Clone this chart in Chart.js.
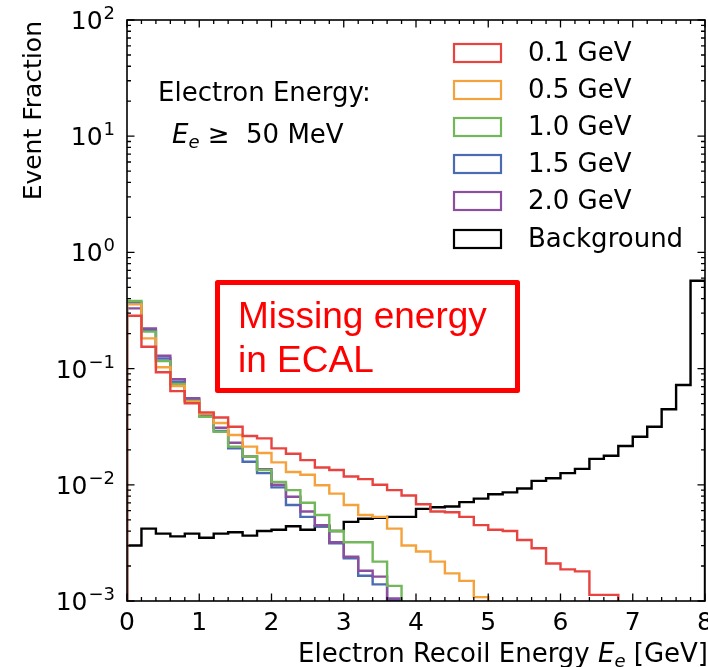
<!DOCTYPE html>
<html>
<head>
<meta charset="utf-8">
<script src="https://cdn.jsdelivr.net/npm/chart.js@4.4.0/dist/chart.umd.min.js"></script>
<style>
  html, body { margin: 0; padding: 0; background: #fff; }
  #wrap { width: 708px; height: 667px; }
</style>
</head>
<body>
<div id="wrap"><canvas id="chart" width="708" height="667"></canvas></div>
<script>
// bin edges of the recoil energy histogram [GeV]
const binEdges = [0, 0.2, 0.4, 0.6, 0.8, 1.0, 1.2, 1.4, 1.6, 1.8, 2.0, 2.2, 2.4, 2.6, 2.8, 3.0,
  3.2, 3.4, 3.6, 3.8, 4.0, 4.2, 4.4, 4.6, 4.8, 5.0, 5.2, 5.4, 5.6, 5.8, 6.0, 6.2, 6.4, 6.6,
  6.8, 7.0, 7.2, 7.4, 7.6, 7.8, 8.0];

const seriesLabels = ["0.1 GeV", "0.5 GeV", "1.0 GeV", "1.5 GeV", "2.0 GeV", "Background"];

const mass01 = [0.285, 0.154, 0.093, 0.064, 0.0503, 0.042, 0.038, 0.0316, 0.0263, 0.0251,
  0.0206, 0.0185, 0.0163, 0.0141, 0.0134, 0.0118, 0.0112, 0.0100, 0.0090, 0.0081,
  0.0068, 0.0059, 0.0058, 0.0053, 0.0045, 0.0041, 0.0040, 0.00335, 0.00284, 0.0021,
  0.00187, 0.0018, 0.00113, 0.00113];
const mass05 = [0.357, 0.182, 0.1026, 0.0708, 0.0519, 0.041, 0.034, 0.0268, 0.0213, 0.0188,
  0.0156, 0.0129, 0.0122, 0.0099, 0.0084, 0.0067, 0.0055, 0.0053, 0.0042, 0.0030,
  0.00267, 0.00218, 0.00173, 0.00149, 0.00108];
const mass10 = [0.382, 0.208, 0.116, 0.0738, 0.0526, 0.0385, 0.0286, 0.0213, 0.0175, 0.0134,
  0.0106, 0.0090, 0.0070, 0.0055, 0.0040, 0.0032, 0.0032, 0.00218, 0.00135];
const mass15 = [0.37, 0.215, 0.122, 0.077, 0.054, 0.039, 0.029, 0.0206, 0.0158, 0.0126,
  0.0095, 0.0067, 0.0053, 0.0044, 0.00314, 0.00233, 0.00165, 0.00139, 0.00102];
const mass20 = [0.330, 0.222, 0.129, 0.081, 0.0555, 0.040, 0.0310, 0.0230, 0.0175, 0.0136,
  0.0100, 0.0079, 0.0059, 0.0045, 0.0032, 0.0024, 0.00182, 0.00162, 0.00105];
const background = [0.0030, 0.0042, 0.0038, 0.0036, 0.0038, 0.0035, 0.0038, 0.0039, 0.00365, 0.0040,
  0.0041, 0.0044, 0.0041, 0.0044, 0.0040, 0.0048, 0.0051, 0.0052, 0.0053, 0.0053,
  0.0062, 0.0064, 0.0065, 0.0071, 0.0076, 0.0083, 0.0086, 0.0093, 0.0108, 0.0114,
  0.0126, 0.0137, 0.0167, 0.0178, 0.0216, 0.0259, 0.0316, 0.0447, 0.0723, 0.571];

const xTickLabels = ["0", "1", "2", "3", "4", "5", "6", "7", "8"];
const yTickExponents = [2, 1, 0, -1, -2, -3];

const colors = ["#e8433f", "#f5a23c", "#72b85a", "#4b6bb2", "#8c4f9f", "#000000"];
const FONT = "'DejaVu Sans', sans-serif";

// histogram step outline: starts and ends below the axis like a step hist
function stepPoints(values) {
  const floor = 1e-5;
  const pts = [{ x: binEdges[0], y: floor }];
  values.forEach((v, i) => pts.push({ x: binEdges[i], y: v }));
  const n = values.length;
  pts.push({ x: binEdges[n], y: values[n - 1] });
  pts.push({ x: binEdges[n], y: floor });
  return pts;
}

const allSeries = [mass01, mass05, mass10, mass15, mass20, background];
const drawOrder = [1, 2, 3, 5, 4, 6];

const datasets = allSeries.map((vals, i) => ({
  label: seriesLabels[i],
  data: stepPoints(vals),
  borderColor: colors[i],
  backgroundColor: colors[i],
  borderWidth: 2.4,
  pointRadius: 0,
  fill: false,
  stepped: true,
  order: drawOrder[i],
  clip: 0
}));

const decor = {
  id: "decor",
  afterDraw(chart) {
    const { ctx, chartArea: a, scales: { x, y } } = chart;
    ctx.save();

    // frame
    ctx.strokeStyle = "#000";
    ctx.lineWidth = 1.6;
    ctx.strokeRect(a.left, a.top, a.right - a.left, a.bottom - a.top);

    // inward ticks on all sides
    ctx.lineWidth = 1.3;
    ctx.beginPath();
    for (let i = 0; i <= 40; i++) {
      const px = x.getPixelForValue(i * 0.2);
      const len = i % 5 === 0 ? 7.5 : 4;
      ctx.moveTo(px, a.bottom); ctx.lineTo(px, a.bottom - len);
      ctx.moveTo(px, a.top); ctx.lineTo(px, a.top + len);
    }
    for (let p = -3; p <= 2; p++) {
      for (let k = 1; k <= 9; k++) {
        if (p === 2 && k > 1) break;
        const py = y.getPixelForValue(k * Math.pow(10, p));
        const len = k === 1 ? 7.5 : 4;
        ctx.moveTo(a.left, py); ctx.lineTo(a.left + len, py);
        ctx.moveTo(a.right, py); ctx.lineTo(a.right - len, py);
      }
    }
    ctx.stroke();

    ctx.fillStyle = "#000";
    // x tick labels
    ctx.font = "25px " + FONT;
    ctx.textAlign = "center";
    ctx.textBaseline = "alphabetic";
    xTickLabels.forEach((t, i) => {
      ctx.fillText(t, x.getPixelForValue(i), 630);
    });

    // y tick labels 10^n
    yTickExponents.forEach((e) => {
      const py = y.getPixelForValue(Math.pow(10, e));
      const expo = e < 0 ? "\u2212" + (-e) : String(e);
      ctx.font = "18px " + FONT;
      const we = ctx.measureText(expo).width;
      const right = a.left - 12;
      ctx.textAlign = "left";
      ctx.fillText(expo, right - we, py - 1);
      ctx.font = "25px " + FONT;
      ctx.textAlign = "right";
      ctx.fillText("10", right - we - 1, py + 9);
    });

    // x axis title (right aligned to the axis end)
    const parts = [
      ["Electron Recoil Energy ", "26px " + FONT, 0],
      ["E", "italic 26px " + FONT, 0],
      ["e", "italic 18px " + FONT, 5],
      [" [GeV]", "26px " + FONT, 0]
    ];
    let total = 0;
    parts.forEach((p) => { ctx.font = p[1]; total += ctx.measureText(p[0]).width; });
    let cx = a.right + 3 - total;
    ctx.textAlign = "left";
    parts.forEach((p) => {
      ctx.font = p[1];
      ctx.fillText(p[0], cx, 662 + p[2]);
      cx += ctx.measureText(p[0]).width;
    });

    // y axis title
    ctx.save();
    ctx.translate(34, a.top + 1);
    ctx.rotate(-Math.PI / 2);
    ctx.font = "25px " + FONT;
    ctx.textAlign = "right";
    ctx.textBaseline = "middle";
    ctx.fillText("Event Fraction", 0, 0);
    ctx.restore();

    // annotation
    ctx.font = "26px " + FONT;
    ctx.textAlign = "left";
    ctx.fillText("Electron Energy:", 158, 101);
    let ax = 172;
    [["E", "italic 26px " + FONT, 0], ["e", "italic 18px " + FONT, 5],
     [" \u2265  50 MeV", "26px " + FONT, 0]].forEach((p) => {
      ctx.font = p[1];
      ctx.fillText(p[0], ax, 143 + p[2]);
      ax += ctx.measureText(p[0]).width;
    });

    // legend
    const rows = [53, 90, 127, 164, 201, 239];
    chart.data.datasets.forEach((ds, i) => {
      ctx.strokeStyle = ds.borderColor;
      ctx.lineWidth = 2.2;
      ctx.strokeRect(454, rows[i] - 9, 47, 18);
      ctx.fillStyle = "#000";
      ctx.font = "26px " + FONT;
      ctx.textBaseline = "middle";
      ctx.fillText(ds.label, 528, rows[i] + 1);
    });
    ctx.textBaseline = "alphabetic";

    // red call-out box
    ctx.strokeStyle = "#ff0000";
    ctx.lineWidth = 5;
    ctx.lineJoin = "round";
    ctx.strokeRect(217.5, 282.5, 300, 108);
    ctx.fillStyle = "#ff0000";
    ctx.font = "37px 'Liberation Sans', Arial, sans-serif";
    ctx.fillText("Missing energy", 238, 328);
    ctx.fillText("in ECAL", 238, 372);

    ctx.restore();
  }
};

new Chart(document.getElementById("chart"), {
  type: "line",
  data: { datasets: datasets },
  options: {
    responsive: false,
    animation: false,
    events: [],
    layout: { padding: { top: 20, right: 3, left: 0, bottom: 0 } },
    plugins: { legend: { display: false }, tooltip: { enabled: false } },
    scales: {
      x: {
        type: "linear", min: 0, max: 8,
        grid: { display: false }, border: { display: false },
        ticks: { display: false },
        afterFit: (s) => { s.height = 66; s.paddingLeft = 0; s.paddingRight = 0; }
      },
      y: {
        type: "logarithmic", min: 1e-3, max: 100,
        grid: { display: false }, border: { display: false },
        ticks: { display: false },
        afterFit: (s) => { s.width = 127; s.paddingTop = 0; s.paddingBottom = 0; }
      }
    }
  },
  plugins: [decor]
});
</script>
</body>
</html>
